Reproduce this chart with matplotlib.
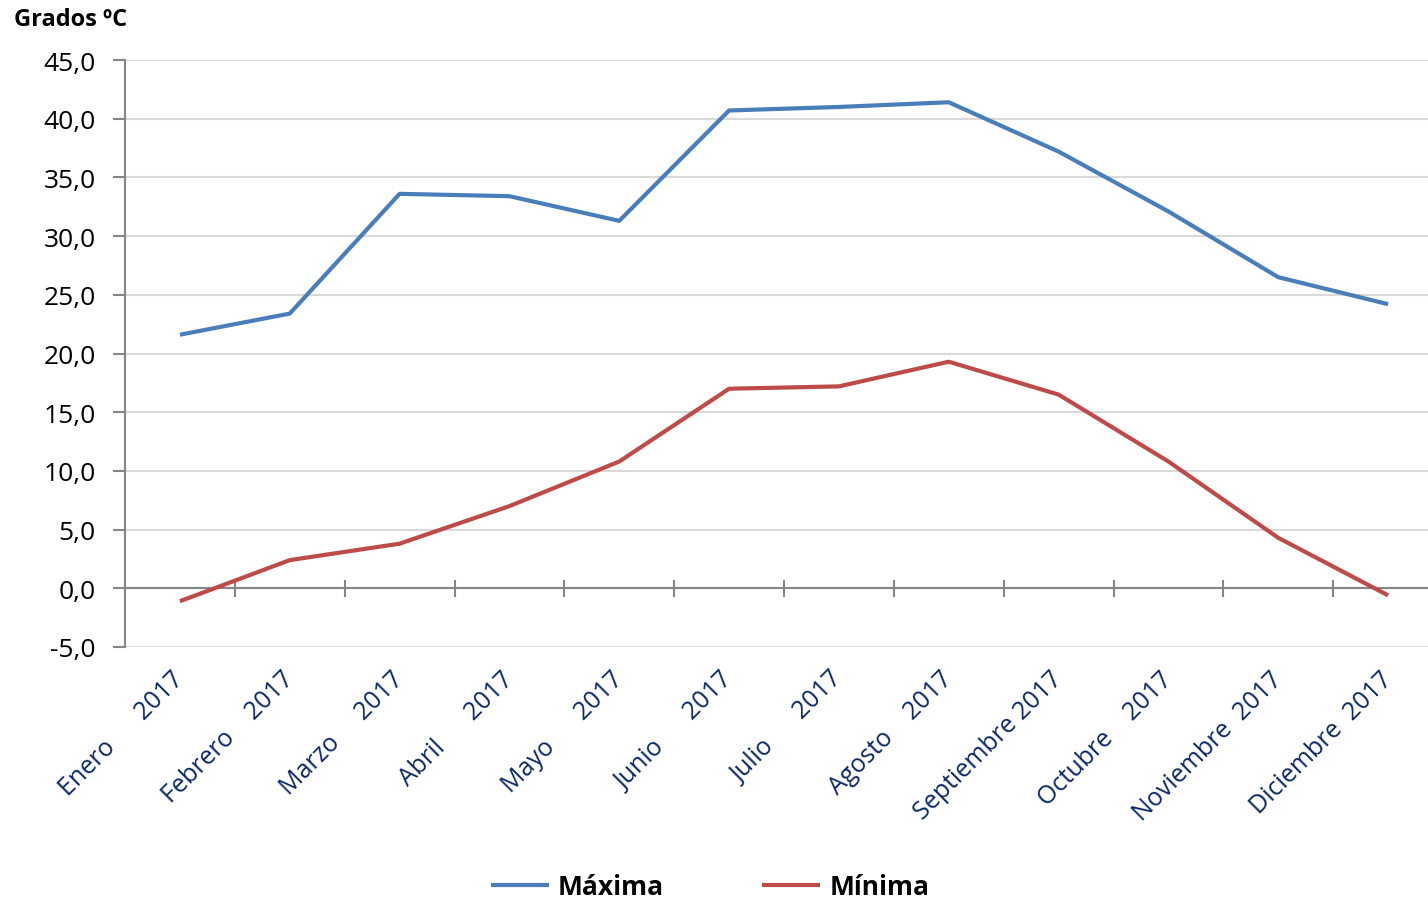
import matplotlib
matplotlib.use("Agg")
import matplotlib.pyplot as plt
import numpy as np

plt.rcParams['font.family'] = ['Open Sans', 'DejaVu Sans']

months = ["Enero      2017", "Febrero    2017", "Marzo     2017", "Abril      2017",
          "Mayo      2017", "Junio      2017", "Julio      2017", "Agosto    2017",
          "Septiembre 2017", "Octubre    2017", "Noviembre  2017", "Diciembre  2017"]
maxima = [21.6, 23.4, 33.6, 33.4, 31.3, 40.7, 41.0, 41.4, 37.2, 32.1, 26.5, 24.2]
minima = [-1.1, 2.4, 3.8, 7.0, 10.8, 17.0, 17.2, 19.3, 16.5, 10.8, 4.3, -0.6]
yticks = [-5, 0, 5, 10, 15, 20, 25, 30, 35, 40, 45]

fig = plt.figure(figsize=(14.28, 9.04), dpi=100)
ax = fig.add_axes([125/1428, 1-648/904, (1443-125)/1428, (648-61)/904])

x = np.arange(len(months))
ax.plot(x, maxima, color='#4A7EBB', lw=3, label='Máxima', solid_capstyle='butt')
ax.plot(x, minima, color='#BE4B48', lw=3, label='Mínima', solid_capstyle='butt')

ax.set_xlim(-0.5, len(months)-0.5)
ax.set_ylim(-5, 45)
ax.set_yticks(yticks)
ax.set_yticklabels([f"{v:.1f}".replace('.', ',') for v in yticks], fontsize=19)
ax.yaxis.grid(True, color='#D9D9D9', lw=1.5)
ax.set_axisbelow(True)
ax.tick_params(axis='y', length=9, width=1.5, color='#868686', pad=12)

for s in ['top', 'right', 'bottom']:
    ax.spines[s].set_visible(False)
ax.spines['left'].set_color('#868686')
ax.spines['left'].set_linewidth(1.5)

# zero axis line with category ticks
ax.axhline(0, color='#868686', lw=1.5, zorder=1.5)
for b in np.arange(0.5, len(months)-0.5, 1.0):
    ax.plot([b, b], [-0.65, 0.65], color='#868686', lw=1.5, zorder=1.5)

ax.set_xticks(x)
ax.set_xticklabels(months, rotation=45, ha='right', va='center',
                   rotation_mode='anchor', fontsize=18, color='#0A2868')
ax.tick_params(axis='x', length=0, pad=20)

fig.text(14/1428, 1-20/904, 'Grados ºC', fontsize=17, fontweight='bold', va='center')

leg = fig.legend(loc='center', bbox_to_anchor=(710/1428, 1-888/904), ncol=2,
                 frameon=False, prop={'weight': 'bold', 'size': 19},
                 handlelength=2.2, columnspacing=3.7, handletextpad=0.35)

fig.savefig('out.png', dpi=100)
